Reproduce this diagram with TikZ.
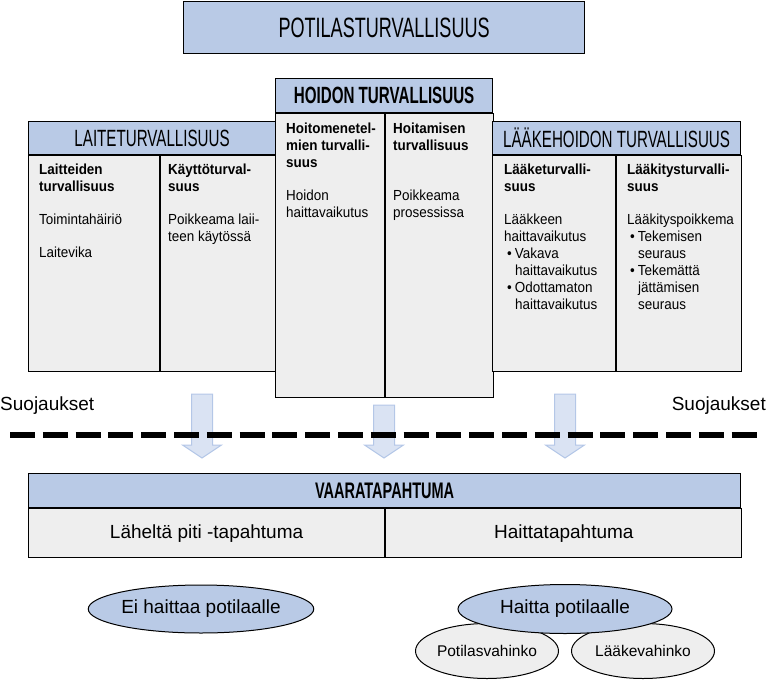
\documentclass[tikz,border=0pt]{standalone}
\usepackage{fontspec}
\setmainfont{Liberation Sans}
\newfontfamily\narrowfont[FakeStretch=0.645]{Liberation Sans}
\newfontfamily\cellfont[FakeStretch=0.92]{Liberation Sans}
\usetikzlibrary{shapes.geometric}
\definecolor{headblue}{HTML}{B9CAE6}
\definecolor{cellgray}{HTML}{EEEEEE}
\definecolor{arrowfill}{HTML}{DAE3F3}
\definecolor{arrowline}{HTML}{B4C7E7}
\tikzset{headbox/.style={draw,line width=1.2pt,fill=headblue,anchor=north west,inner sep=0pt,font=\narrowfont\fontsize{23.5}{26}\selectfont}}
\tikzset{cellbox/.style={draw,line width=1.2pt,fill=cellgray,anchor=north west,inner sep=0pt}}
\tikzset{coltext/.style={anchor=north west,align=left,inner sep=0pt,font=\cellfont\fontsize{14.6}{17}\selectfont}}
\tikzset{blob/.style={ellipse,draw,line width=1pt,inner sep=0pt,font=\fontsize{19}{22}\selectfont}}
\tikzset{downarrow/.style={fill=arrowfill,draw=arrowline,line width=1pt}}
\newcommand{\bul}{\hspace*{3pt}\textbullet\hspace{3pt}}
\newcommand{\ind}{\hspace*{11pt}}

\begin{document}
\begin{tikzpicture}[x=1pt,y=-1pt]
\useasboundingbox (0,0) rectangle (768,680);

\node[headbox,minimum width=401,minimum height=52,font=\narrowfont\fontsize{28}{30}\selectfont] (potilas) at (183,1) {POTILASTURVALLISUUS};

% laiteturvallisuus
\node[headbox,minimum width=247,minimum height=33] (laite) at (28,121) {LAITETURVALLISUUS};
\node[cellbox,minimum width=131,minimum height=216] (laiteA) at (laite.south west) {};
\node[cellbox,minimum width=116,minimum height=216] (laiteB) at (laiteA.north east) {};
\node[coltext] (laiteAtxt) at (39,164) {\textbf{Laitteiden}\\\textbf{turvallisuus}\\[16pt]Toimintahäiriö\\[16pt]Laitevika};
\node[coltext] (laiteBtxt) at (168,164) {\textbf{Käyttöturval-}\\\textbf{suus}\\[16pt]Poikkeama laii-\\teen käytössä};

% hoidon turvallisuus
\node[headbox,minimum width=217,minimum height=34,font=\narrowfont\bfseries\fontsize{23.5}{26}\selectfont] (hoidon) at (275,78) {HOIDON TURVALLISUUS};
\node[cellbox,minimum width=109,minimum height=284] (hoidonA) at (hoidon.south west) {};
\node[cellbox,minimum width=108,minimum height=284] (hoidonB) at (hoidonA.north east) {};
\node[coltext] (hoidonAtxt) at (286,123) {\textbf{Hoitomenetel-}\\\textbf{mien turvalli-}\\\textbf{suus}\\[16pt]Hoidon\\haittavaikutus};
\node[coltext] (hoidonBtxt) at (393,123) {\textbf{Hoitamisen}\\\textbf{turvallisuus}\\[33pt]Poikkeama\\prosessissa};

% laakehoidon turvallisuus
\node[headbox,minimum width=248,minimum height=33] (laake) at (492,121) {LÄÄKEHOIDON TURVALLISUUS};
\node[cellbox,minimum width=123,minimum height=216] (laakeA) at (laake.south west) {};
\node[cellbox,minimum width=125,minimum height=216] (laakeB) at (laakeA.north east) {};
\node[coltext] (laakeAtxt) at (504,164) {\textbf{Lääketurvalli-}\\\textbf{suus}\\[16pt]Lääkkeen\\haittavaikutus\\\bul Vakava\\\ind haittavaikutus\\\bul Odottamaton\\\ind haittavaikutus};
\node[coltext] (laakeBtxt) at (627,164) {\textbf{Lääkitysturvalli-}\\\textbf{suus}\\[16pt]Lääkityspoikkema\\\bul Tekemisen\\\ind seuraus\\\bul Tekemättä\\\ind jättämisen\\\ind seuraus};

% suojaukset
\foreach \x/\t in {202/394,384/405,565/394}
  \draw[downarrow] (\x-10.5,\t) -- (\x+10.5,\t) -- (\x+10.5,445) -- (\x+19.5,445) -- (\x,458) -- (\x-19.5,445) -- (\x-10.5,445) -- cycle;
\coordinate (suojaL) at (10,435);
\coordinate (suojaR) at (757,435);
\draw[line width=6pt,dash pattern=on 25pt off 7.8pt] (suojaL) -- (suojaR);
\node[anchor=west,inner sep=0pt,font=\fontsize{19}{22}\selectfont] (suojausL) at (0,406) {Suojaukset};
\node[anchor=east,inner sep=0pt,font=\fontsize{19}{22}\selectfont] (suojausR) at (766,406) {Suojaukset};

% vaaratapahtuma
\node[headbox,minimum width=712,minimum height=34,font=\narrowfont\bfseries\fontsize{22.5}{25}\selectfont] (vaara) at (28,473) {VAARATAPAHTUMA};
\node[cellbox,minimum width=356,minimum height=49,font=\fontsize{19}{22}\selectfont] (vaaraA) at (vaara.south west) {Läheltä piti -tapahtuma};
\node[cellbox,minimum width=356,minimum height=49,font=\fontsize{19}{22}\selectfont] (vaaraB) at (vaaraA.north east) {Haittatapahtuma};

% seuraukset
\node[blob,fill=headblue,minimum width=210,minimum height=48] (eiHaitta) at (201,609) {Ei haittaa potilaalle};
\node[blob,fill=cellgray,minimum width=143,minimum height=55,font=\fontsize{15.5}{18}\selectfont] (potilasVah) at (487,651) {Potilasvahinko};
\node[blob,fill=cellgray,minimum width=143,minimum height=55,font=\fontsize{15.5}{18}\selectfont] (laakeVah) at (643,651) {Lääkevahinko};
\node[blob,fill=headblue,minimum width=214,minimum height=49] (haitta) at (565,609) {Haitta potilaalle};
\end{tikzpicture}
\end{document}
